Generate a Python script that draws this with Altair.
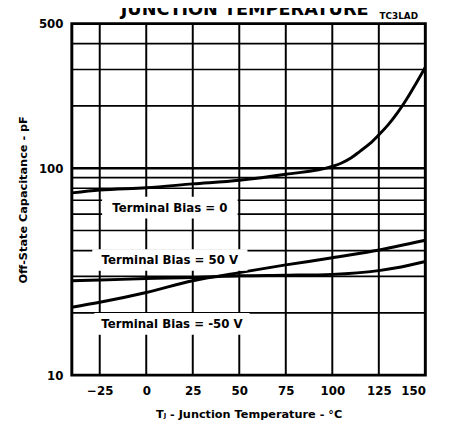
import altair as alt
import pandas as pd

# ---- data ----
bias0_temp = [-40, -25, 0, 25, 50, 75, 100, 105, 110, 115, 120, 125, 130, 135, 140, 145, 150]
bias0_cap = [76, 78.5, 80.5, 84, 87.5, 93.5, 102, 106, 112, 121, 131, 145, 162, 185, 216, 257, 308]

bias50_temp = [-40, -25, 0, 25, 50, 75, 100, 125, 137, 150]
bias50_cap = [28.6, 28.8, 29.3, 29.6, 30.2, 30.4, 30.7, 32.0, 33.3, 35.4]

biasm50_temp = [-40, -25, 0, 25, 50, 75, 100, 122, 150]
biasm50_cap = [21.3, 22.5, 25.1, 28.6, 31.3, 34.1, 36.9, 39.8, 44.9]

x_ticks = [-25, 0, 25, 50, 75, 100, 125, 150]
y_ticks = [10, 100, 500]
v_grid = [-25, 0, 25, 50, 75, 100, 125]
h_grid_minor = [20, 30, 40, 50, 60, 70, 80, 90, 200, 300, 400]
h_grid_major = [100]

label_text = ["Terminal Bias = 0", "Terminal Bias = 50 V", "Terminal Bias = -50 V"]
label_temp = [12.7, 12.7, 13.8]
label_cap = [64.5, 36.0, 17.7]
label_box_w = [138, 158, 158]

FONT = "DejaVu Sans"

rows = []
for name, ts, cs in [("0", bias0_temp, bias0_cap), ("50 V", bias50_temp, bias50_cap),
                     ("-50 V", biasm50_temp, biasm50_cap)]:
    for t, c in zip(ts, cs):
        rows.append({"temp": t, "cap": c, "series": name})
curves = pd.DataFrame(rows)

x_scale = alt.Scale(domain=[-40, 150], nice=False, zero=False)
y_scale = alt.Scale(type="log", domain=[10, 500], nice=False)

x_axis = alt.Axis(values=x_ticks, grid=False, ticks=False, domain=False,
                  labelFont=FONT, labelFontWeight="bold", labelFontSize=12, labelColor="black",
                  labelPadding=11, labelOverlap=False,
                  title="Tⱼ - Junction Temperature - °C", titleFont=FONT, titleFontWeight="bold",
                  titleFontSize=11.5, titleColor="black", titlePadding=12)
y_axis = alt.Axis(values=y_ticks, format="d", grid=False, ticks=False, domain=False,
                  labelFont=FONT, labelFontWeight="bold", labelFontSize=12, labelColor="black",
                  labelPadding=9, labelOverlap=False,
                  title="Off-State Capacitance - pF", titleFont=FONT, titleFontWeight="bold",
                  titleFontSize=11.5, titleColor="black", titlePadding=10)

X = alt.X("temp:Q", scale=x_scale, axis=x_axis)
Y = alt.Y("cap:Q", scale=y_scale, axis=y_axis)

vgrid = alt.Chart(pd.DataFrame({"temp": v_grid})).mark_rule(color="black", strokeWidth=2).encode(x=X)
hgrid = alt.Chart(pd.DataFrame({"cap": h_grid_minor})).mark_rule(color="black", strokeWidth=1.7).encode(y=Y)
hgrid_major = alt.Chart(pd.DataFrame({"cap": h_grid_major})).mark_rule(color="black", strokeWidth=2.6).encode(y=Y)

lines = alt.Chart(curves).mark_line(color="black", strokeWidth=3, interpolate="monotone", clip=True).encode(
    x=X, y=Y, detail="series:N")

layers = [vgrid, hgrid, hgrid_major, lines]

for txt, t, c, w in zip(label_text, label_temp, label_cap, label_box_w):
    d = pd.DataFrame({"temp": [t], "cap": [c], "label": [txt]})
    box = alt.Chart(d).mark_rect(color="white", width=w, height=22).encode(x=X, y=Y)
    text = alt.Chart(d).mark_text(font=FONT, fontWeight="bold", fontSize=12, color="black",
                                  align="center", baseline="middle").encode(x=X, y=Y, text="label:N")
    layers += [box, text]

anno = pd.DataFrame({"t": [0]})
code_label = alt.Chart(anno).mark_text(font=FONT, fontWeight="bold", fontSize=9, color="black",
                                       align="center", baseline="middle").encode(
    x=alt.value(333), y=alt.value(-8), text=alt.value("TC3LAD"))
top_title = alt.Chart(anno).mark_text(font=FONT, fontWeight="bold", fontSize=18, color="black",
                                      align="center", baseline="alphabetic").encode(
    x=alt.value(176), y=alt.value(-9), text=alt.value("JUNCTION TEMPERATURE"))
layers += [code_label, top_title]

chart = alt.layer(*layers).properties(
    width=360, height=358,
    autosize=alt.AutoSizeParams(type="none"),
    padding={"left": 65, "top": 12, "right": 18, "bottom": 54},
    background="white",
).configure_view(stroke="black", strokeWidth=3)

chart.save("out.html", embed_options={"renderer": "svg", "actions": False})
